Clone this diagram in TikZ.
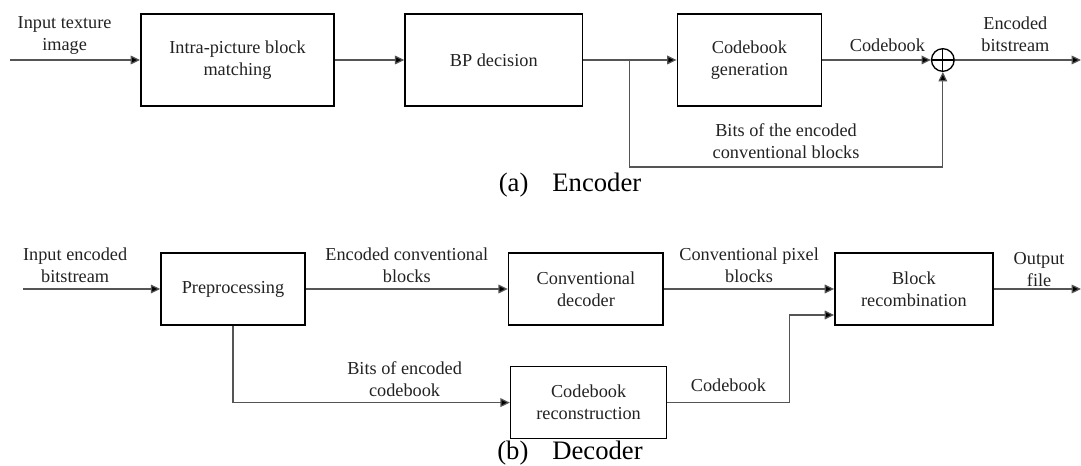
\documentclass[tikz,border=0pt]{standalone}
\usepackage{fontspec}
\setmainfont{Liberation Serif}
\usetikzlibrary{arrows.meta,calc,positioning}
\definecolor{CodecInk}{HTML}{222222}
\definecolor{CodecWire}{HTML}{555555}
\tikzset{
  >={Triangle[length=7pt,width=6.5pt,fill=black]},
  flow/.style={->,line width=0.9pt,draw=CodecWire},
  wire/.style={line width=0.9pt,draw=CodecWire},
  block/.style={draw=black,line width=1.2pt,align=center,text=CodecInk,
    font=\fontsize{13.7}{16.5}\selectfont,inner sep=2pt},
  encblock/.style={block,minimum height=69pt},
  decblock/.style={block,minimum height=54pt},
  lbl/.style={align=center,text=CodecInk,font=\fontsize{13.7}{16.5}\selectfont,
    inner sep=4pt},
  caption/.style={text=black,font=\fontsize{20}{24}\selectfont,inner sep=0pt},
  adder/.style={circle,draw=black,line width=1pt,minimum size=17pt,inner sep=0pt,
    path picture={\draw[line width=0.9pt]
      (path picture bounding box.north) -- (path picture bounding box.south)
      (path picture bounding box.west) -- (path picture bounding box.east);}}
}
\begin{document}
\begin{tikzpicture}[x=0.75pt,y=-0.75pt]
\useasboundingbox (0,0) rectangle (1081,466);
% (a) encoder
\node[encblock,minimum width=145pt] (match) at (237.5,60) {Intra-picture block\\matching};
\node[encblock,minimum width=133pt,right=52pt of match] (bp) {BP decision};
\node[encblock,minimum width=108pt,right=70pt of bp] (cbgen) {Codebook\\generation};
\node[adder,right=81.5pt of cbgen] (xor) {};
\coordinate (encin) at (10,60);
\coordinate (encout) at (1081,60);
\coordinate[right=34.5pt of bp] (split);
\draw[flow] (encin) -- node[lbl,above,pos=.42] (intex) {Input texture\\image} (match);
\draw[flow] (match) -- (bp);
\draw[wire] (bp) -- (split);
\draw[flow] (split) -- (cbgen);
\draw[flow] (cbgen) -- node[lbl,above,pos=.6,inner sep=6pt] (cbk) {Codebook} (xor);
\draw[flow] (xor) -- node[lbl,above,pos=.48,inner sep=6pt] (encbits) {Encoded\\bitstream} (encout);
\draw[flow] (split) -- ++(0,107) -| node[lbl,above,pos=.25,inner sep=6pt] (bits) {Bits of the encoded\\conventional blocks} (xor.south);
\node[caption] (capa) at (570,185) {(a)\hspace{18pt}Encoder};
% (b) decoder
\node[decblock,minimum width=108pt] (prep) at (233,289) {Preprocessing};
\node[decblock,minimum width=116pt,right=151.5pt of prep] (convdec) {Conventional\\decoder};
\node[decblock,minimum width=118.5pt,right=127.5pt of convdec] (recomb) {Block\\recombination};
\node[decblock,minimum width=117pt,below=30pt of convdec,xshift=2pt] (recon) {Codebook\\reconstruction};
\coordinate (decin) at (23,289);
\coordinate (decout) at (1081,289);
\coordinate (turn) at ($(recon.east)+(122,0)$);
\draw[flow] (decin) -- node[lbl,above,pos=.38] (inbits) {Input encoded\\bitstream} (prep);
\draw[flow] (prep) -- node[lbl,above] (encconv) {Encoded conventional\\blocks} (convdec);
\draw[flow] (convdec) -- node[lbl,above] (pix) {Conventional pixel\\blocks} (recomb);
\draw[flow] (recomb) -- node[lbl,above,pos=.52,inner sep=0pt,yshift=1pt] (outf) {Output\\file} (decout);
\draw[flow] (prep) |- node[lbl,above,pos=.81] (cbbits) {Bits of encoded\\codebook} (recon);
\draw[flow] (recon) -- node[lbl,above,inner sep=8pt] (cbk2) {Codebook} (turn) |- ([yshift=-19.5pt]recomb.west);
\node[caption] (capb) at (570,453) {(b)\hspace{18pt}Decoder};
\end{tikzpicture}
\end{document}
